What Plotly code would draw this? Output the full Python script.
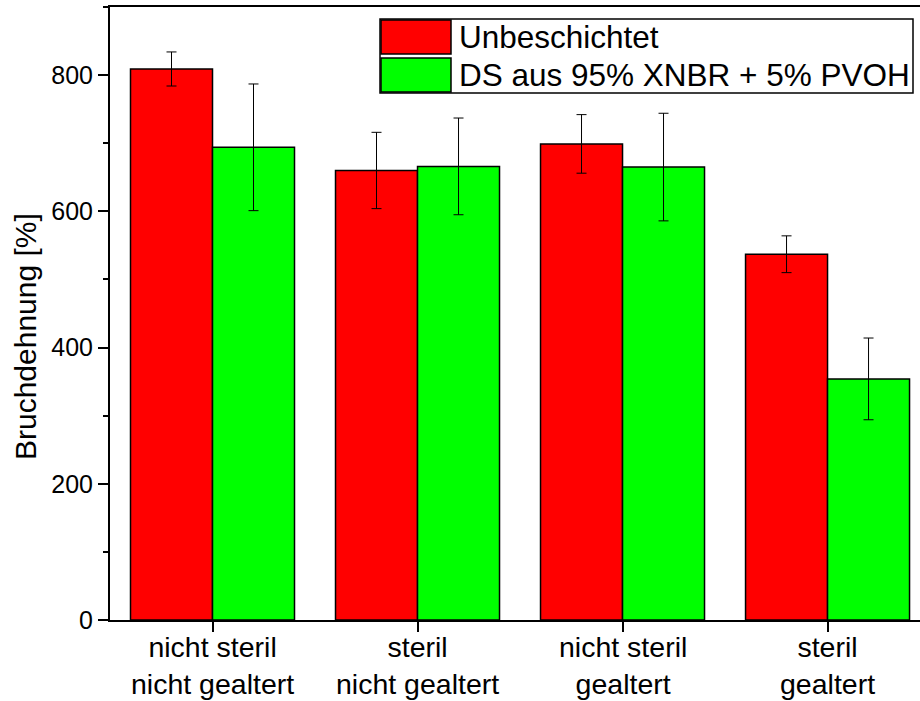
import plotly.graph_objects as go

# Sample conditions (x axis) and measured elongation at break
categories = ["nicht steril<br>nicht gealtert", "steril<br>nicht gealtert",
              "nicht steril<br>gealtert", "steril<br>gealtert"]
series_names = ["Unbeschichtet", "DS aus 95% XNBR + 5% PVOH"]
uncoated = [809, 660, 699, 537]
uncoated_err = [25, 56, 43, 27]
coated = [694, 666, 665, 354]
coated_err = [93, 71, 79, 60]
y_ticks = [0, 200, 400, 600, 800]
y_title = "Bruchdehnung [%]"

RED = "#ff0000"
GREEN = "#00ff00"
FONT = "Arial, Liberation Sans, sans-serif"

x_pos = list(range(len(categories)))

fig = go.Figure()
for name, vals, errs, col in [(series_names[0], uncoated, uncoated_err, RED),
                              (series_names[1], coated, coated_err, GREEN)]:
    fig.add_trace(go.Bar(
        x=x_pos, y=vals, name=name,
        marker=dict(color=col, line=dict(color="black", width=1.5)),
        error_y=dict(type="data", array=errs, visible=True,
                     color="black", thickness=1, width=5),
        showlegend=False,
    ))

# Plot-area pixel frame, used to place the boxed legend and axis labels
W0, W1 = 110, 920
H0, H1 = 7, 620


def px(x):
    return (x - W0) / (W1 - W0)


def py(y):
    return (H1 - y) / (H1 - H0)


shapes = [dict(type="rect", xref="paper", yref="paper",
               x0=px(380), x1=px(913), y0=py(93), y1=py(19),
               line=dict(color="black", width=1.5), fillcolor="white")]
annotations = []
for i, (name, col) in enumerate(zip(series_names, [RED, GREEN])):
    top = 20 + i * 38
    shapes.append(dict(type="rect", xref="paper", yref="paper",
                       x0=px(381), x1=px(451), y0=py(top + 34), y1=py(top),
                       line=dict(color="black", width=1.5), fillcolor=col))
    annotations.append(dict(xref="paper", yref="paper", x=px(457),
                            y=py(top + 17), text=name, showarrow=False,
                            xanchor="left", yanchor="middle",
                            font=dict(size=31.5, color="black", family=FONT)))

# Two-line category labels under each group
for xp, label in zip(x_pos, categories):
    annotations.append(dict(xref="x", yref="paper", x=xp, y=py(665),
                            text=label, showarrow=False,
                            xanchor="center", yanchor="middle",
                            font=dict(size=28.5, color="black", family=FONT)))

annotations.append(dict(xref="paper", yref="paper", x=px(25), y=py(337),
                        text=y_title, textangle=-90, showarrow=False,
                        xanchor="center", yanchor="middle",
                        font=dict(size=30, color="black", family=FONT)))

fig.update_layout(
    width=920, height=701,
    margin=dict(l=110, r=0, t=7, b=81),
    paper_bgcolor="white", plot_bgcolor="white",
    barmode="group", bargap=0.2, bargroupgap=0,
    font=dict(family=FONT, color="black"),
    shapes=shapes, annotations=annotations,
)
fig.update_xaxes(
    range=[-0.5, 3.451], tickvals=x_pos, showticklabels=False,
    showline=True, linecolor="black", linewidth=2, mirror=True,
    ticks="outside", ticklen=10, tickwidth=1.5, tickcolor="black",
    showgrid=False, zeroline=False, automargin=False,
)
fig.update_yaxes(
    range=[0, 900], tickvals=y_ticks,
    showline=True, linecolor="black", linewidth=2,
    ticks="outside", ticklen=10, tickwidth=1.5, tickcolor="black",
    minor=dict(dtick=100, ticks="outside", ticklen=5, tickwidth=1.5,
               tickcolor="black", showgrid=False),
    tickfont=dict(size=25, family=FONT), showgrid=False, zeroline=False,
    automargin=False,
)

fig.write_html("out.html")
